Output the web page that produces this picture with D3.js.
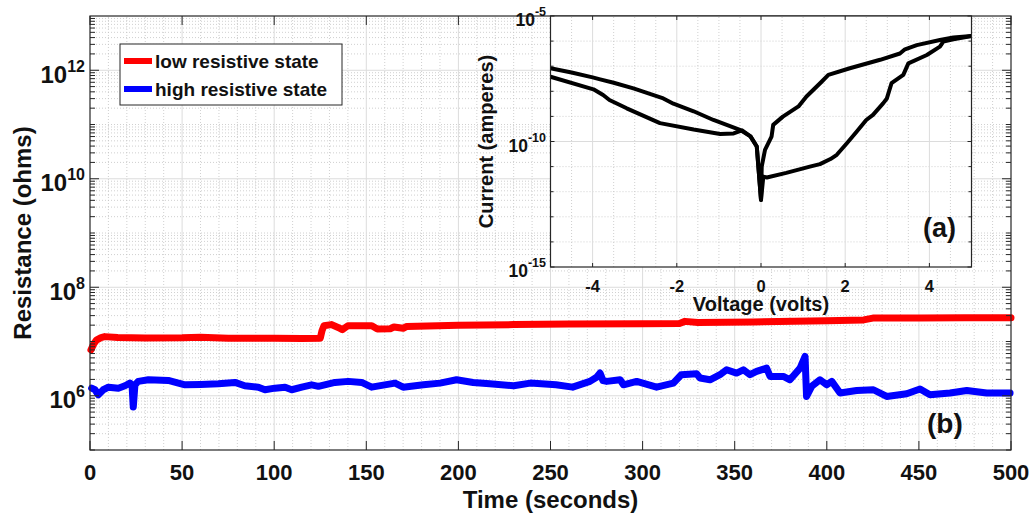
<!DOCTYPE html>
<html>
<head>
<meta charset="utf-8">
<script src="https://cdn.jsdelivr.net/npm/d3@7"></script>
<style>
  body { margin: 0; background: #fff; }
  text { font-family: "Liberation Sans", Arial, Helvetica, sans-serif; font-weight: bold; fill: #111; }
</style>
</head>
<body>
<script>
//SVG dimension variables
var w = 1030, h = 516;

//low resistive state
var lrsTime = [0.5, 1, 2, 3.5, 6, 8, 15, 30, 50, 60, 75, 100, 115, 125, 126, 127, 131, 135, 137, 140, 153, 156, 163, 165, 170, 172, 200, 230, 260, 300, 320, 323, 330, 360, 400, 420, 425, 450, 475, 500];
var lrsRes = [7.0e6, 7.6e6, 9.0e6, 1.06e7, 1.18e7, 1.23e7, 1.18e7, 1.16e7, 1.17e7, 1.2e7, 1.15e7, 1.15e7, 1.14e7, 1.15e7, 1.6e7, 1.95e7, 2.05e7, 1.8e7, 1.65e7, 1.95e7, 1.95e7, 1.7e7, 1.72e7, 1.85e7, 1.75e7, 1.9e7, 2.0e7, 2.05e7, 2.1e7, 2.12e7, 2.15e7, 2.35e7, 2.25e7, 2.3e7, 2.4e7, 2.5e7, 2.7e7, 2.7e7, 2.75e7, 2.75e7];

//high resistive state
var hrsTime = [0.9, 2.7, 4.5, 7.2, 10, 15.4, 19, 21.7, 22.8, 23.5, 24.4, 26.2, 31.7, 42.5, 48, 51.6, 60, 69.7, 78.7, 84, 91.4, 95, 100.4, 105.9, 109.5, 115, 120.3, 124, 133, 140.2, 147.5, 152.9, 160, 165.6, 170, 181, 190, 199, 208, 217, 230, 239, 253, 262, 271.4, 275, 276.9, 278.5, 280.5, 287.8, 289.6, 296.8, 307.6, 316.7, 321, 329.3, 331.2, 336.6, 342, 345.6, 351, 354.7, 358.3, 361.9, 367.3, 369.2, 376.4, 380, 385.5, 388.2, 389, 391.8, 396.3, 399.9, 402.7, 407.2, 416.2, 425.3, 432.5, 443.4, 450.6, 456, 466.9, 476, 486.8, 499.5];
var hrsRes = [1.38e6, 1.29e6, 1.04e6, 1.29e6, 1.44e6, 1.38e6, 1.53e6, 1.71e6, 1.6e6, 6.2e5, 1.59e6, 1.84e6, 1.97e6, 1.92e6, 1.71e6, 1.59e6, 1.62e6, 1.66e6, 1.76e6, 1.53e6, 1.44e6, 1.29e6, 1.38e6, 1.44e6, 1.29e6, 1.44e6, 1.59e6, 1.49e6, 1.76e6, 1.84e6, 1.76e6, 1.44e6, 1.59e6, 1.71e6, 1.44e6, 1.59e6, 1.71e6, 1.97e6, 1.76e6, 1.66e6, 1.53e6, 1.71e6, 1.59e6, 1.44e6, 1.84e6, 2.2e6, 2.62e6, 1.9e6, 1.84e6, 1.97e6, 1.59e6, 1.84e6, 1.44e6, 1.71e6, 2.44e6, 2.54e6, 2.12e6, 1.97e6, 2.44e6, 3.01e6, 2.62e6, 3.01e6, 2.44e6, 2.81e6, 3.23e6, 2.27e6, 2.27e6, 1.97e6, 3.23e6, 5.3e6, 0.97e6, 1.49e6, 1.97e6, 1.59e6, 1.84e6, 1.12e6, 1.25e6, 1.29e6, 0.97e6, 1.09e6, 1.33e6, 1.04e6, 1.12e6, 1.25e6, 1.12e6, 1.12e6];

//inset I-V sweep, first branch (-5 V -> 0 -> +5 V)
var sweepAV = [-5, -4.5, -4, -3.82, -3.5, -3.03, -2.32, -2.08, -1.6, -1.13, -0.5, -0.25, -0.1, 0, 0.055, 0.14, 0.6, 1.16, 1.4, 1.65, 1.8, 2.04, 2.27, 2.5, 2.66, 2.9, 2.99, 3.1, 3.38, 3.5, 3.94, 4.25, 4.33, 4.57, 5];
var sweepAI = [8.3e-8, 5.6e-8, 3.6e-8, 3.0e-8, 2.2e-8, 1.3e-8, 5.2e-9, 3.2e-9, 1.6e-9, 7.2e-10, 2.9e-10, 1.6e-10, 6.3e-11, 4.7e-13, 4.0e-12, 3.7e-12, 5.6e-12, 1.0e-11, 1.26e-11, 2.0e-11, 2.95e-11, 8.5e-11, 2.45e-10, 7.2e-10, 1.15e-9, 3.3e-9, 5.2e-9, 2.1e-8, 4.5e-8, 1.3e-7, 2.8e-7, 6.0e-7, 9.5e-7, 1.17e-6, 1.6e-6];

//inset I-V sweep, second branch (+5 V -> 0 -> -5 V)
var sweepBV = [5, 4.57, 4.25, 3.7, 3.42, 3.3, 2.83, 2.11, 1.6, 1.44, 1.08, 0.89, 0.52, 0.29, 0.25, 0.095, 0.017, 0, -0.1, -0.25, -0.45, -0.65, -0.97, -1.6, -2.4, -3.19, -3.6, -3.75, -3.98, -5];
var sweepBI = [1.6e-6, 1.4e-6, 1.1e-6, 6.9e-7, 4.7e-7, 3.2e-7, 1.8e-7, 8.3e-8, 4.5e-8, 2.4e-8, 6.2e-9, 2.5e-9, 9.8e-10, 4.6e-10, 1.55e-10, 4.6e-11, 1.0e-11, 4.7e-13, 6.3e-11, 1.6e-10, 2.8e-10, 2.1e-10, 2.0e-10, 3.0e-10, 5.4e-10, 2.1e-9, 4.5e-9, 7.1e-9, 1.2e-8, 3.8e-8];

//tick labels
var timeTicks = [0, 50, 100, 150, 200, 250, 300, 350, 400, 450, 500];
var resTickExp = [6, 8, 10, 12];
var voltTicks = [-4, -2, 0, 2, 4];
var currTickExp = [-15, -10, -5];

var legendNames = ["low resistive state", "high resistive state"];
var legendColors = ["#ff0000", "#0000ff"];

var axisColor = "#262626";

// Create the svg
var container = d3.select("body")
    .append("svg")
    .attr("width", w)
    .attr("height", h)
    .attr("class", "container");

// Main scales
var x = d3.scaleLinear()
    .domain([0, 500])
    .range([90, 1011]);

var y = d3.scaleLog()
    .domain([1e5, 1e13])
    .range([450, 16]);

var main = container.append("g").attr("class", "main");

main.append("rect")
    .attr("x", x(0)).attr("y", y(1e13))
    .attr("width", x(500) - x(0)).attr("height", y(1e5) - y(1e13))
    .style("fill", "#fff");

//every k*10^e value between two decades
function logValues(e0, e1){
    var vals = [];
    for (var e = e0; e < e1; e++){
        for (var k = 1; k < 10; k++){
            vals.push(k * Math.pow(10, e));
        }
    }
    return vals;
}

// minor grid
var minorTime = d3.range(10, 500, 10).filter(function(d){ return d % 50 !== 0; });
main.selectAll(".xminor")
    .data(minorTime)
    .enter()
    .append("line")
    .attr("class", "xminor")
    .attr("x1", function(d){ return x(d); })
    .attr("x2", function(d){ return x(d); })
    .attr("y1", y(1e5)).attr("y2", y(1e13))
    .style("stroke", "#c4c4c4").style("stroke-width", 0.8).style("stroke-dasharray", "1,2");

var majorRes = resTickExp.map(function(e){ return Math.pow(10, e); });
var minorRes = logValues(5, 13).filter(function(v){
    var e = Math.log10(v);
    return v > 1e5 && !(Math.abs(e - Math.round(e)) < 1e-9 && Math.round(e) % 2 === 0);
});
main.selectAll(".yminor")
    .data(minorRes)
    .enter()
    .append("line")
    .attr("class", "yminor")
    .attr("x1", x(0)).attr("x2", x(500))
    .attr("y1", function(d){ return y(d); })
    .attr("y2", function(d){ return y(d); })
    .style("stroke", "#c4c4c4").style("stroke-width", 0.8).style("stroke-dasharray", "1,2");

// major grid
main.selectAll(".xmajor")
    .data(timeTicks.slice(1, -1))
    .enter()
    .append("line")
    .attr("class", "xmajor")
    .attr("x1", function(d){ return x(d); })
    .attr("x2", function(d){ return x(d); })
    .attr("y1", y(1e5)).attr("y2", y(1e13))
    .style("stroke", "#dcdcdc").style("stroke-width", 1);

main.selectAll(".ymajor")
    .data(majorRes)
    .enter()
    .append("line")
    .attr("class", "ymajor")
    .attr("x1", x(0)).attr("x2", x(500))
    .attr("y1", function(d){ return y(d); })
    .attr("y2", function(d){ return y(d); })
    .style("stroke", "#dcdcdc").style("stroke-width", 1);

// data lines
var resLine = d3.line()
    .x(function(d){ return x(d[0]); })
    .y(function(d){ return y(d[1]); });

main.append("path")
    .datum(d3.zip(lrsTime, lrsRes))
    .attr("d", resLine)
    .style("fill", "none").style("stroke", legendColors[0])
    .style("stroke-width", 7).style("stroke-linejoin", "round").style("stroke-linecap", "round");

main.append("path")
    .datum(d3.zip(hrsTime, hrsRes))
    .attr("d", resLine)
    .style("fill", "none").style("stroke", legendColors[1])
    .style("stroke-width", 7).style("stroke-linejoin", "round").style("stroke-linecap", "round");

// ticks (inward, on all four sides)
timeTicks.forEach(function(t){
    main.append("line").attr("x1", x(t)).attr("x2", x(t)).attr("y1", y(1e5)).attr("y2", y(1e5) - 9)
        .style("stroke", axisColor);
    main.append("line").attr("x1", x(t)).attr("x2", x(t)).attr("y1", y(1e13)).attr("y2", y(1e13) + 9)
        .style("stroke", axisColor);
});
logValues(5, 13).forEach(function(v){
    var e = Math.log10(v);
    var len = (Math.abs(e - Math.round(e)) < 1e-9 && Math.round(e) % 2 === 0) ? 9 : 5;
    main.append("line").attr("x1", x(0)).attr("x2", x(0) + len).attr("y1", y(v)).attr("y2", y(v))
        .style("stroke", axisColor);
    main.append("line").attr("x1", x(500)).attr("x2", x(500) - len).attr("y1", y(v)).attr("y2", y(v))
        .style("stroke", axisColor);
});

main.append("rect")
    .attr("x", x(0)).attr("y", y(1e13))
    .attr("width", x(500) - x(0)).attr("height", y(1e5) - y(1e13))
    .style("fill", "none").style("stroke", axisColor).style("stroke-width", 1.2);

// tick labels
main.selectAll(".xlabel")
    .data(timeTicks)
    .enter()
    .append("text")
    .attr("class", "xlabel")
    .attr("x", function(d){ return x(d); })
    .attr("y", 480)
    .attr("text-anchor", "middle")
    .style("font-size", "22px")
    .text(function(d){ return d; });

var yLabels = main.selectAll(".ylabel")
    .data(resTickExp)
    .enter()
    .append("text")
    .attr("class", "ylabel")
    .attr("x", 85)
    .attr("y", function(d){ return y(Math.pow(10, d)) + 12.5; })
    .attr("text-anchor", "end");
yLabels.append("tspan").style("font-size", "24px").text("10");
yLabels.append("tspan").attr("dy", -11).style("font-size", "16px").text(function(d){ return d; });

// axis titles
main.append("text")
    .attr("x", (x(0) + x(500)) / 2)
    .attr("y", 508)
    .attr("text-anchor", "middle")
    .style("font-size", "24px")
    .text("Time (seconds)");

main.append("text")
    .attr("transform", "translate(31," + ((y(1e5) + y(1e13)) / 2) + ") rotate(-90)")
    .attr("text-anchor", "middle")
    .style("font-size", "24px")
    .text("Resistance (ohms)");

main.append("text")
    .attr("x", 927).attr("y", 433)
    .style("font-size", "28px")
    .text("(b)");

// legend
var legend = main.append("g").attr("class", "legend");
legend.append("rect")
    .attr("x", 120).attr("y", 44).attr("width", 222).attr("height", 61)
    .style("fill", "#fff").style("stroke", axisColor).style("stroke-width", 1);
legend.selectAll(".legendLine")
    .data(legendNames)
    .enter()
    .append("line")
    .attr("x1", 124).attr("x2", 152)
    .attr("y1", function(d, i){ return 61 + i * 28; })
    .attr("y2", function(d, i){ return 61 + i * 28; })
    .style("stroke", function(d, i){ return legendColors[i]; })
    .style("stroke-width", 6);
legend.selectAll(".legendText")
    .data(legendNames)
    .enter()
    .append("text")
    .attr("x", 155)
    .attr("y", function(d, i){ return 68 + i * 28; })
    .style("font-size", "19px")
    .text(function(d){ return d; });

// Inset (a): I-V curve
var vx = d3.scaleLinear()
    .domain([-5, 5])
    .range([550.5, 971.5]);

var vy = d3.scaleLog()
    .domain([1e-15, 1e-5])
    .range([267, 16]);

var inset = container.append("g").attr("class", "inset");

inset.append("rect")
    .attr("x", vx(-5)).attr("y", vy(1e-5))
    .attr("width", vx(5) - vx(-5)).attr("height", vy(1e-15) - vy(1e-5))
    .style("fill", "#fff");

var minorVolt = d3.range(-4.5, 5, 0.5).filter(function(d){ return d % 2 !== 0; });
inset.selectAll(".vminor")
    .data(minorVolt)
    .enter()
    .append("line")
    .attr("x1", function(d){ return vx(d); })
    .attr("x2", function(d){ return vx(d); })
    .attr("y1", vy(1e-15)).attr("y2", vy(1e-5))
    .style("stroke", "#c4c4c4").style("stroke-width", 0.8).style("stroke-dasharray", "1,2");

var currDecades = d3.range(-14, -5).filter(function(e){ return e !== -10; });
inset.selectAll(".iminor")
    .data(currDecades)
    .enter()
    .append("line")
    .attr("x1", vx(-5)).attr("x2", vx(5))
    .attr("y1", function(d){ return vy(Math.pow(10, d)); })
    .attr("y2", function(d){ return vy(Math.pow(10, d)); })
    .style("stroke", "#c4c4c4").style("stroke-width", 0.8).style("stroke-dasharray", "1,2");

inset.selectAll(".vmajor")
    .data(voltTicks)
    .enter()
    .append("line")
    .attr("x1", function(d){ return vx(d); })
    .attr("x2", function(d){ return vx(d); })
    .attr("y1", vy(1e-15)).attr("y2", vy(1e-5))
    .style("stroke", "#dcdcdc").style("stroke-width", 1);

inset.append("line")
    .attr("x1", vx(-5)).attr("x2", vx(5))
    .attr("y1", vy(1e-10)).attr("y2", vy(1e-10))
    .style("stroke", "#dcdcdc").style("stroke-width", 1);

var ivLine = d3.line()
    .x(function(d){ return vx(d[0]); })
    .y(function(d){ return vy(d[1]); });

[[sweepAV, sweepAI], [sweepBV, sweepBI]].forEach(function(s){
    inset.append("path")
        .datum(d3.zip(s[0], s[1]))
        .attr("d", ivLine)
        .style("fill", "none").style("stroke", "#000")
        .style("stroke-width", 4).style("stroke-linejoin", "round");
});

voltTicks.forEach(function(v){
    inset.append("line").attr("x1", vx(v)).attr("x2", vx(v)).attr("y1", vy(1e-15)).attr("y2", vy(1e-15) - 4)
        .style("stroke", axisColor);
    inset.append("line").attr("x1", vx(v)).attr("x2", vx(v)).attr("y1", vy(1e-5)).attr("y2", vy(1e-5) + 4)
        .style("stroke", axisColor);
});
d3.range(-15, -4).forEach(function(e){
    var len = currTickExp.indexOf(e) >= 0 ? 4 : 3;
    inset.append("line").attr("x1", vx(-5)).attr("x2", vx(-5) + len)
        .attr("y1", vy(Math.pow(10, e))).attr("y2", vy(Math.pow(10, e)))
        .style("stroke", axisColor);
    inset.append("line").attr("x1", vx(5)).attr("x2", vx(5) - len)
        .attr("y1", vy(Math.pow(10, e))).attr("y2", vy(Math.pow(10, e)))
        .style("stroke", axisColor);
});

inset.append("rect")
    .attr("x", vx(-5)).attr("y", vy(1e-5))
    .attr("width", vx(5) - vx(-5)).attr("height", vy(1e-15) - vy(1e-5))
    .style("fill", "none").style("stroke", axisColor).style("stroke-width", 1.2);

inset.selectAll(".vlabel")
    .data(voltTicks)
    .enter()
    .append("text")
    .attr("x", function(d){ return vx(d); })
    .attr("y", 292)
    .attr("text-anchor", "middle")
    .style("font-size", "16.5px")
    .text(function(d){ return d < 0 ? "-" + Math.abs(d) : d; });

var iLabels = inset.selectAll(".ilabel")
    .data(currTickExp)
    .enter()
    .append("text")
    .attr("x", 546)
    .attr("y", function(d){ return vy(Math.pow(10, d)) + 10; })
    .attr("text-anchor", "end");
iLabels.append("tspan").style("font-size", "17.5px").text("10");
iLabels.append("tspan").attr("dy", -10).style("font-size", "12.5px").text(function(d){ return d; });

inset.append("text")
    .attr("x", (vx(-5) + vx(5)) / 2)
    .attr("y", 311)
    .attr("text-anchor", "middle")
    .style("font-size", "20px")
    .text("Voltage (volts)");

inset.append("text")
    .attr("transform", "translate(493," + ((vy(1e-15) + vy(1e-5)) / 2) + ") rotate(-90)")
    .attr("text-anchor", "middle")
    .style("font-size", "20px")
    .text("Current (amperes)");

inset.append("text")
    .attr("x", 923).attr("y", 237)
    .style("font-size", "27px")
    .text("(a)");
</script>
</body>
</html>
